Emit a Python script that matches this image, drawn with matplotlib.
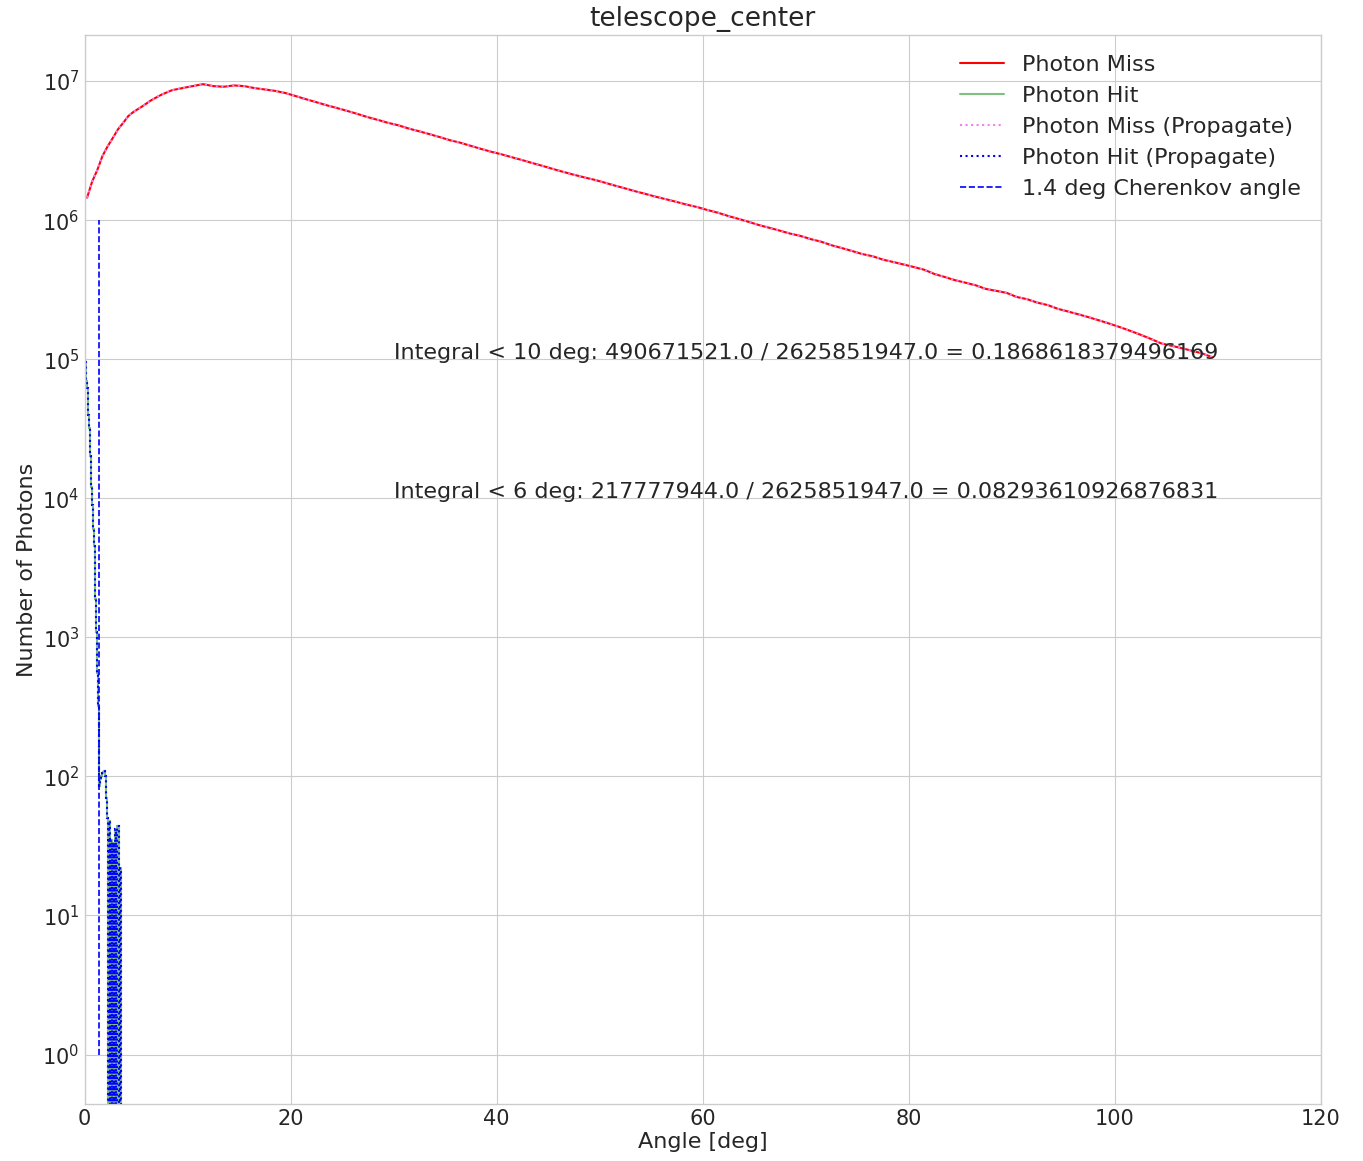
import numpy as np
import matplotlib
matplotlib.use("Agg")
import matplotlib.pyplot as plt

plt.style.use("seaborn-v0_8-whitegrid")
plt.rcParams["font.family"] = ["DejaVu Sans"]

# photon miss histogram (bin edges in deg, counts in millions)
miss_edges = [0, 0.5, 1, 1.5, 2, 2.5, 3, 3.5, 4, 4.5, 5] + list(range(6, 111))
miss_counts_M = [
    1.45, 1.9, 2.3, 2.9, 3.4, 3.9, 4.5, 5.0, 5.6, 6.0,           # 0 - 5
    6.5, 7.3, 8.0, 8.6, 8.9, 9.2, 9.5, 9.2, 9.1, 9.3,            # 5 - 15
    9.2, 8.9, 8.7, 8.5, 8.2, 7.8, 7.4, 7.05, 6.7, 6.4,           # 15 - 25
    6.1, 5.8, 5.5, 5.25, 5.0, 4.8, 4.55, 4.35, 4.15, 3.95,       # 25 - 35
    3.75, 3.6, 3.42, 3.25, 3.1, 2.97, 2.83, 2.7, 2.57, 2.45,     # 35 - 45
    2.33, 2.22, 2.12, 2.03, 1.95, 1.86, 1.77, 1.69, 1.61, 1.54,  # 45 - 55
    1.47, 1.41, 1.35, 1.29, 1.24, 1.18, 1.13, 1.07, 1.02, 0.97,  # 55 - 65
    0.92, 0.88, 0.84, 0.8, 0.77, 0.73, 0.7, 0.66, 0.63, 0.6,     # 65 - 75
    0.57, 0.55, 0.52, 0.5, 0.48, 0.46, 0.44, 0.41, 0.39, 0.37,   # 75 - 85
    0.355, 0.34, 0.32, 0.31, 0.30, 0.28, 0.27, 0.255, 0.245, 0.23,  # 85 - 95
    0.22, 0.21, 0.2, 0.19, 0.18, 0.17, 0.16, 0.15, 0.14, 0.13,   # 95 - 105
    0.125, 0.12, 0.115, 0.11, 0.103,                             # 105 - 110
]
miss_counts = np.array(miss_counts_M) * 1e6
miss_centers = (np.array(miss_edges[:-1]) + np.array(miss_edges[1:])) / 2

# photon hit histogram, 0.1 deg bins
hit_edges = np.round(np.arange(0, 3.65, 0.1), 2)
hit_counts = [
    95000, 70000, 62000, 40000, 32000, 20000, 12000, 9000, 6000, 4500,
    1900, 1100, 550, 320, 85, 95, 100, 105, 108, 110,
    100, 70, 50, 0, 48, 0, 35, 0, 33, 0,
    42, 0, 44, 0, 22, 0,
]

cherenkov_angle = 1.4
integral_texts = [
    (10, 490671521.0, 2625851947.0, 0.1868618379496169),
    (6, 217777944.0, 2625851947.0, 0.08293610926876831),
]
text_y = [1e5, 1e4]

fig, ax = plt.subplots(figsize=(13.63, 11.61), dpi=100)
fig.subplots_adjust(left=0.062, right=0.969, top=0.970, bottom=0.049)

ax.set_yscale("log")
ax.plot(miss_centers, miss_counts, color="red", lw=1.5, label="Photon Miss")
ax.stairs(hit_counts, hit_edges, baseline=None, color="green", alpha=0.5, lw=1.5, label="Photon Hit")
ax.plot(miss_centers, miss_counts, color="violet", ls=":", lw=1.5, label="Photon Miss (Propagate)")
ax.stairs(hit_counts, hit_edges, baseline=None, color="blue", ls=":", lw=1.5,
          label="Photon Hit (Propagate)")
ax.vlines(cherenkov_angle, 1, 1e6, colors="blue", linestyles="--", lw=1.2,
          label="1.4 deg Cherenkov angle")

for (deg, num, den, frac), y in zip(integral_texts, text_y):
    ax.text(30, y, f"Integral < {deg} deg: {num} / {den} = {frac}", fontsize=16, color="0.15")

ax.set_xlim(0, 120)
ax.set_ylim(0.44, 2.15e7)
ax.set_title("telescope_center", fontsize=19)
ax.set_xlabel("Angle [deg]", fontsize=16, labelpad=2)
ax.set_ylabel("Number of Photons", fontsize=16)
ax.tick_params(labelsize=15)
ax.legend(loc="upper right", fontsize=16, frameon=False)

plt.savefig("out.png", dpi=100)
